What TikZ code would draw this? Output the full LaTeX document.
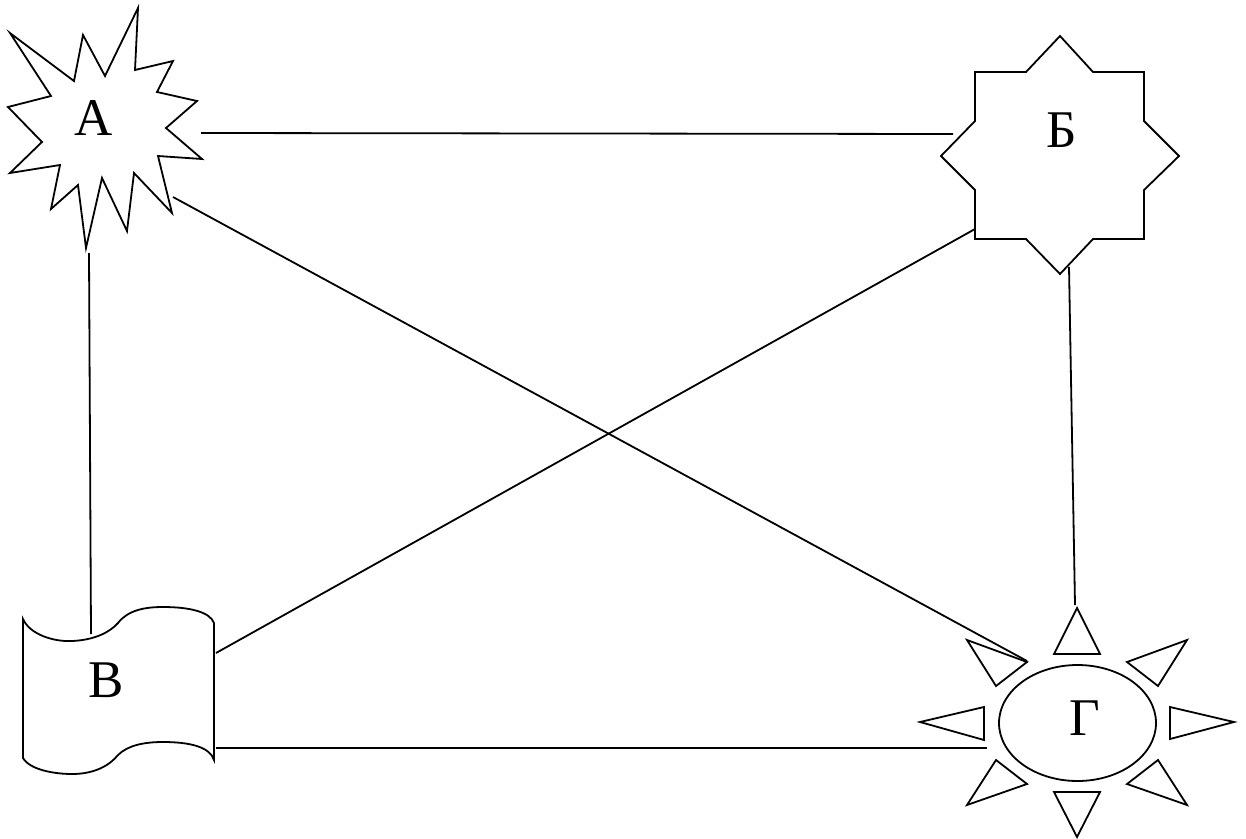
\documentclass[tikz,border=0pt]{standalone}
\usepackage{fontspec}
\setmainfont{Liberation Serif}
\begin{document}
\begin{tikzpicture}[x=1pt,y=-1pt,
  shapeline/.style={draw=black,line width=1.8pt,line join=miter,fill=white},
  conn/.style={draw=black,line width=1.8pt},
  lbl/.style={anchor=base,inner sep=0pt,font=\fontsize{53}{60}\selectfont}]
\useasboundingbox[fill=white] (0,0) rectangle (1246,838);
% A: explosion
\draw[shapeline] (10,33) -- (74,81) -- (83,35) -- (105,76) -- (138,8) -- (135,70) -- (173,61) -- (157,92) -- (197,101) -- (166,128) -- (202,159) -- (158,156) -- (172,213) -- (134,173) -- (127,231) -- (102,178) -- (86,248) -- (78,185) -- (51,209) -- (60,165) -- (10,173) -- (42,142) -- (8,107) -- (51,96) -- cycle;
% Б: eight-point star
\draw[shapeline] (1060,36) -- (1093,72) -- (1144,72) -- (1144,121) -- (1179,156) -- (1144,190) -- (1144,239) -- (1093,239) -- (1060,274) -- (1026,239) -- (975,239) -- (975,190) -- (941,156) -- (975,121) -- (975,72) -- (1026,72) -- cycle;
% В: punched tape
\draw[shapeline] (23,619) .. controls (30,635) and (55,642) .. (72,641) .. controls (95,640) and (110,632) .. (118,623) .. controls (128,610) and (145,607) .. (163,607) .. controls (190,607) and (210,612) .. (214,623) -- (214,760) .. controls (210,747) and (190,742) .. (163,742) .. controls (145,742) and (128,745) .. (118,755) .. controls (110,765) and (95,774) .. (72,774) .. controls (55,774) and (30,770) .. (23,758) -- cycle;
% Г: sun
\draw[shapeline] (1077.5,723) ellipse [x radius=78.5, y radius=58];
\draw[shapeline] (1077,608) -- (1054,654) -- (1100,654) -- cycle;
\draw[shapeline] (1054,792) -- (1100,792) -- (1077,837) -- cycle;
\draw[shapeline] (920,722) -- (984,707) -- (984,740) -- cycle;
\draw[shapeline] (1170,707) -- (1170,739) -- (1234,722) -- cycle;
\draw[shapeline] (967,640) -- (1027,662) -- (996,686) -- cycle;
\draw[shapeline] (1187,640) -- (1127,662) -- (1158,686) -- cycle;
\draw[shapeline] (996,760) -- (1027,784) -- (967,805) -- cycle;
\draw[shapeline] (1158,760) -- (1127,784) -- (1187,805) -- cycle;
% labels
\node[lbl] (A) at (94,135) {А};
\node[lbl] (B) at (1062,147) {Б};
\node[lbl] (V) at (106,697) {В};
\node[lbl] (G) at (1085,735) {Г};
% connector end points
\coordinate (aB) at (201,133);
\coordinate (bA) at (953,134);
\coordinate (aG) at (173,197);
\coordinate (gA) at (1027,661);
\coordinate (aV) at (89,253);
\coordinate (vA) at (91,634);
\coordinate (bV) at (975,229);
\coordinate (vB) at (216,653);
\coordinate (bG) at (1069,267);
\coordinate (gB) at (1075,605);
\coordinate (vG) at (216,748);
\coordinate (gV) at (987,748);
% connectors
\draw[conn] (aB) -- (bA);
\draw[conn] (aG) -- (gA);
\draw[conn] (aV) -- (vA);
\draw[conn] (bV) -- (vB);
\draw[conn] (bG) -- (gB);
\draw[conn] (vG) -- (gV);
\end{tikzpicture}
\end{document}
